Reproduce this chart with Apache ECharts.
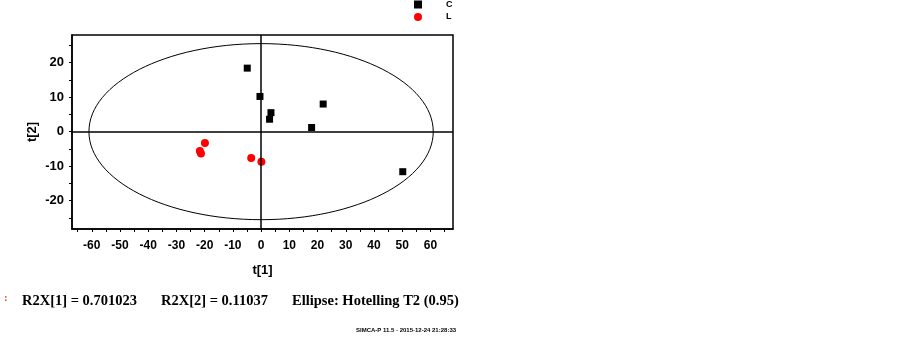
<!DOCTYPE html>
<html>
<head>
<meta charset="utf-8">
<script src="https://cdn.jsdelivr.net/npm/echarts@6/dist/echarts.min.js"></script>
<style>
html,body{margin:0;padding:0;background:#fff;}
#chart{width:903px;height:337px;}
</style>
</head>
<body>
<div id="chart"></div>
<script>
// Group C (black squares)
const cX = [-4.9, -0.4, 3.5, 3.0, 22.0, 17.9, 50.2];
const cY = [18.4, 10.2, 5.5, 3.6, 8.0, 1.2, -11.6];
// Group L (red circles)
const lX = [-19.9, -21.7, -21.3, -3.5, 0.1];
const lY = [-3.3, -5.6, -6.3, -7.6, -8.7];
// Hotelling T2 ellipse (center and semi-axes in data units)
const ellipseCenter = [0, 0];
const ellipseRadii = [61, 25.5];
// Tick labels and tick marks
const xLabels = [-60, -50, -40, -30, -20, -10, 0, 10, 20, 30, 40, 50, 60];
const xTicks = [-65, -60, -55, -50, -45, -40, -35, -30, -25, -20, -15, -10, -5, 0, 5, 10, 15, 20, 25, 30, 35, 40, 45, 50, 55, 60, 65];
const yLabels = [-20, -10, 0, 10, 20];
const yTicks = [-25, -20, -15, -10, -5, 0, 5, 10, 15, 20, 25];

const chart = echarts.init(document.getElementById('chart'));
const cData = cX.map((x, i) => [x, cY[i]]);
const lData = lX.map((x, i) => [x, lY[i]]);

chart.setOption({
  animation: false,
  backgroundColor: '#fff',
  grid: {left: 72, right: 450, top: 35, bottom: 108, show: true, borderColor: '#000', borderWidth: 1.5, backgroundColor: 'transparent'},
  legend: {
    orient: 'vertical', left: 414, top: 0, padding: 0, itemWidth: 8, itemHeight: 8, itemGap: 3.4,
    itemStyle: {opacity: 1},
    textStyle: {fontFamily: 'Liberation Sans', fontWeight: 'bold', fontSize: 9, color: '#000', padding: [0, 0, 0, 19]},
    data: [{name: 'C', icon: 'rect'}, {name: 'L', icon: 'circle'}]
  },
  xAxis: {
    type: 'value', min: -67, max: 68, position: 'bottom',
    axisLine: {onZero: false, lineStyle: {color: '#000', width: 1.5}},
    axisTick: {show: true, length: 3, customValues: xTicks, lineStyle: {color: '#000'}},
    axisLabel: {customValues: xLabels, color: '#000', fontFamily: 'Liberation Sans', fontWeight: 'bold', fontSize: 12, margin: 11},
    splitLine: {show: false},
    name: 't[1]', nameLocation: 'middle', nameGap: 35,
    nameTextStyle: {color: '#000', fontFamily: 'Liberation Sans', fontWeight: 'bold', fontSize: 13}
  },
  yAxis: {
    type: 'value', min: -28.2, max: 28,
    axisLine: {onZero: false, lineStyle: {color: '#000', width: 1.5}},
    axisTick: {show: true, length: 3, customValues: yTicks, lineStyle: {color: '#000'}},
    axisLabel: {customValues: yLabels, color: '#000', fontFamily: 'Liberation Sans', fontWeight: 'bold', fontSize: 13, margin: 8},
    splitLine: {show: false},
    name: 't[2]', nameLocation: 'middle', nameGap: 33,
    nameTextStyle: {color: '#000', fontFamily: 'Liberation Sans', fontWeight: 'bold', fontSize: 13}
  },
  series: [
    {
      type: 'custom', name: 'ellipse', silent: true, clip: false,
      data: [[ellipseCenter[0], ellipseCenter[1]]],
      renderItem: function (params, api) {
        const c = api.coord(ellipseCenter);
        const e = api.coord([ellipseCenter[0] + ellipseRadii[0], ellipseCenter[1] + ellipseRadii[1]]);
        return {
          type: 'ellipse',
          shape: {cx: c[0], cy: c[1], rx: Math.abs(e[0] - c[0]), ry: Math.abs(c[1] - e[1])},
          style: {fill: null, stroke: '#000', lineWidth: 1}
        };
      },
      markLine: {
        silent: true, symbol: 'none', label: {show: false},
        lineStyle: {color: '#000', width: 1.5, type: 'solid', opacity: 1},
        data: [{xAxis: 0}, {yAxis: 0}]
      }
    },
    {
      type: 'scatter', name: 'C', data: cData, symbol: 'rect', symbolSize: 7,
      itemStyle: {color: '#000', opacity: 1}
    },
    {
      type: 'scatter', name: 'L', data: lData, symbol: 'circle', symbolSize: 8,
      itemStyle: {color: '#ff0000', opacity: 1}
    }
  ],
  graphic: [
    {type: 'text', left: 4, top: 293, style: {text: ':', fill: '#e0502a', font: 'bold 11px "Liberation Serif"'}},
    {type: 'text', left: 22, top: 294, style: {text: 'R2X[1] = 0.701023', fill: '#000', font: 'bold 14.5px "Liberation Serif"'}},
    {type: 'text', left: 161, top: 294, style: {text: 'R2X[2] = 0.11037', fill: '#000', font: 'bold 14.5px "Liberation Serif"'}},
    {type: 'text', left: 292, top: 294, style: {text: 'Ellipse: Hotelling T2 (0.95)', fill: '#000', font: 'bold 14.5px "Liberation Serif"'}},
    {type: 'text', left: 356, top: 327, style: {text: 'SIMCA-P 11.5 - 2015-12-24 21:28:33', fill: '#000', font: 'bold 6px "Liberation Sans"', width: 104, overflow: 'truncate', ellipsis: ''}}
  ]
});
</script>
</body>
</html>
